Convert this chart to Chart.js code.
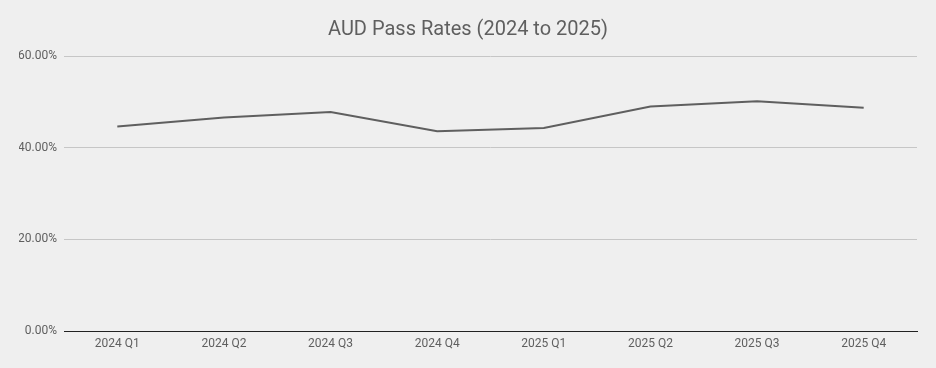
<!DOCTYPE html>
<html>
<head>
<meta charset="utf-8">
<script src="https://cdn.jsdelivr.net/npm/chart.js@4"></script>
<style>
  html, body { margin: 0; padding: 0; background: #efefef; }
  canvas { display: block; }
</style>
</head>
<body>
<canvas id="passChart" width="936" height="368"></canvas>
<script>
// chart data
const quarters = ['2024 Q1', '2024 Q2', '2024 Q3', '2024 Q4', '2025 Q1', '2025 Q2', '2025 Q3', '2025 Q4'];
const passRates = [44.6, 46.6, 47.8, 43.6, 44.3, 49.0, 50.1, 48.7];
const yTicks = [0, 20, 40, 60];

const bgPlugin = {
    id: 'bg',
    beforeDraw(chart) {
        const ctx = chart.ctx;
        ctx.save();
        ctx.fillStyle = '#efefef';
        ctx.fillRect(0, 0, chart.width, chart.height);
        ctx.restore();
    }
};

const ctx = document.getElementById('passChart').getContext('2d');
new Chart(ctx, {
    type: 'line',
    data: {
        labels: quarters,
        datasets: [{
            label: 'Pass Rate',
            data: passRates,
            borderColor: '#5f5f5f',
            borderWidth: 2,
            pointRadius: 0,
            tension: 0,
            fill: false
        }]
    },
    options: {
        responsive: false,
        animation: false,
        layout: { padding: { left: 19, right: 19, top: 0, bottom: 0 } },
        plugins: {
            legend: { display: false },
            tooltip: { enabled: false },
            title: {
                display: true,
                text: 'AUD Pass Rates (2024 to 2025)',
                color: '#5f5f5f',
                font: { family: 'Roboto', size: 20, weight: 'normal' },
                padding: { top: 18, bottom: 14 }
            }
        },
        scales: {
            x: {
                offset: true,
                grid: { display: false, drawTicks: false },
                border: { display: true, color: '#222', width: 1 },
                ticks: {
                    color: '#5f5f5f',
                    font: { family: 'Roboto', size: 12 },
                    padding: 6,
                    maxRotation: 0
                },
                afterFit(scale) { scale.height = 37; }
            },
            y: {
                min: 0,
                max: 60,
                afterBuildTicks(scale) {
                    scale.ticks = yTicks.map(v => ({ value: v }));
                },
                grid: { color: '#c6c6c6', drawTicks: false },
                border: { display: false },
                ticks: {
                    color: '#5f5f5f',
                    font: { family: 'Roboto', size: 12 },
                    padding: 7,
                    callback: v => v.toFixed(2) + '%'
                },
                afterFit(scale) { scale.width = 45; }
            }
        }
    },
    plugins: [bgPlugin]
});
</script>
</body>
</html>
